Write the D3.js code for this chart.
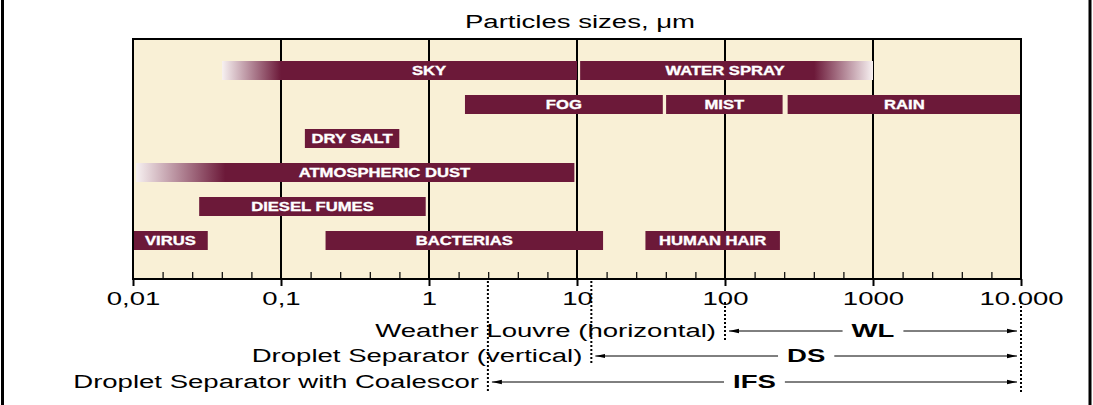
<!DOCTYPE html>
<html>
<head>
<meta charset="utf-8">
<script src="https://cdn.jsdelivr.net/npm/d3@7"></script>
<style>
  html, body { margin: 0; padding: 0; background: #fff; }
  svg { display: block; }
  text { font-family: "Liberation Sans", Arial, sans-serif; }
</style>
</head>
<body>
<div id="chart"></div>
<script>
// particle size ranges, um
const barNames = ["SKY", "WATER SPRAY", "FOG", "MIST", "RAIN", "DRY SALT", "ATMOSPHERIC DUST", "DIESEL FUMES", "VIRUS", "BACTERIAS", "HUMAN HAIR"];
const barRows  = [0, 0, 1, 1, 1, 2, 3, 4, 5, 5, 5];
const barFrom  = [0.04, 10.5, 1.75, 40, 265, 0.145, 0.0105, 0.028, 0.01, 0.2, 29];
const barTo    = [10, 1000, 38, 245, 10000, 0.63, 9.6, 0.95, 0.032, 15, 235];
// where a faded end turns solid (null = no fade)
const fadeInTo   = [0.1, null, null, null, null, null, 0.042, null, null, null, null];
const fadeOutFrom = [null, 400, null, null, null, null, null, null, null, null, null];
const labelAt  = [1, 100, null, null, null, null, 0.5, null, null, null, null];

const decades    = [0.01, 0.1, 1, 10, 100, 1000, 10000];
const tickLabels = ["0,01", "0,1", "1", "10", "100", "1000", "10.000"];
const minorSteps = 5;   // each decade is cut in five equal (log) parts

const sepNames = ["Weather Louvre (horizontal)", "Droplet Separator (vertical)", "Droplet Separator with Coalescor"];
const sepCodes = ["WL", "DS", "IFS"];
const sepFrom  = [100, 12.5, 2.5];
const sepTo    = [10000, 10000, 10000];

const width = 1093, height = 405;
const plot = { left: 133, right: 1021, top: 39, bottom: 279 };
const barColor = "#6c1939";
const cream = "#f9f0d6";
const sx = 1.45;      // the source type is set wide
const barSx = 1.28;

const svg = d3.select("#chart").append("svg")
    .attr("width", width)
    .attr("height", height);

const x = d3.scaleLog().domain([0.01, 10000]).range([plot.left, plot.right]);
const y = d3.scalePoint().domain(d3.range(6)).range([70.5, 240.5]);
const barH = 19;

// outer frame (left / right rules of the page)
svg.append("line").attr("x1", 2.5).attr("x2", 2.5).attr("y1", 0).attr("y2", height)
    .attr("stroke", "#000").attr("stroke-width", 3);
svg.append("line").attr("x1", 1090).attr("x2", 1090).attr("y1", 0).attr("y2", height)
    .attr("stroke", "#000").attr("stroke-width", 3);

// title
svg.append("text")
    .attr("transform", `translate(580,28) scale(${sx},1)`)
    .attr("text-anchor", "middle")
    .style("font-size", "19px")
    .text("Particles sizes, \u03bcm");

// plot background
svg.append("rect")
    .attr("x", plot.left).attr("y", plot.top)
    .attr("width", plot.right - plot.left).attr("height", plot.bottom - plot.top)
    .attr("fill", cream);

// minor ticks (pointing up into the plot)
const minors = [];
decades.slice(0, -1).forEach(d => {
    for (let k = 1; k < minorSteps; k++) minors.push(d * Math.pow(10, k / minorSteps));
});
svg.append("g")
    .attr("transform", `translate(0,${plot.bottom})`)
    .call(d3.axisBottom(x).tickValues(minors).tickSize(-7).tickFormat(""))
    .call(g => g.select(".domain").remove())
    .call(g => g.selectAll("line").attr("stroke", "#000").attr("stroke-width", 1.2));

// decade grid lines
svg.append("g").selectAll("line")
    .data(decades.slice(1, -1))
    .join("line")
    .attr("x1", d => x(d)).attr("x2", d => x(d))
    .attr("y1", plot.top).attr("y2", plot.bottom)
    .attr("stroke", "#000").attr("stroke-width", 2);

// bars
const defs = svg.append("defs");
const bars = barNames.map((name, i) => ({
    name, row: barRows[i], from: barFrom[i], to: barTo[i],
    fadeIn: fadeInTo[i], fadeOut: fadeOutFrom[i], label: labelAt[i]
}));

bars.forEach((b, i) => {
    const x0 = x(b.from), x1 = x(b.to);
    let fill = barColor;
    if (b.fadeIn || b.fadeOut) {
        const id = "fade" + i;
        const grad = defs.append("linearGradient").attr("id", id)
            .attr("gradientUnits", "userSpaceOnUse")
            .attr("x1", x0).attr("x2", x1).attr("y1", 0).attr("y2", 0);
        const pct = v => ((x(v) - x0) / (x1 - x0) * 100) + "%";
        if (b.fadeIn) {
            grad.append("stop").attr("offset", "0%").attr("stop-color", "#f7f1f1");
            grad.append("stop").attr("offset", pct(b.fadeIn)).attr("stop-color", barColor);
            grad.append("stop").attr("offset", "100%").attr("stop-color", barColor);
        } else {
            grad.append("stop").attr("offset", "0%").attr("stop-color", barColor);
            grad.append("stop").attr("offset", pct(b.fadeOut)).attr("stop-color", barColor);
            grad.append("stop").attr("offset", "100%").attr("stop-color", "#f7f1f1");
        }
        fill = `url(#${id})`;
    }
    svg.append("rect")
        .attr("x", x0).attr("y", y(b.row) - barH / 2)
        .attr("width", x1 - x0).attr("height", barH)
        .attr("fill", fill);

    const lx = b.label ? x(b.label) : x(Math.sqrt(b.from * b.to));
    svg.append("text")
        .attr("transform", `translate(${lx},${y(b.row) + 4.8}) scale(${barSx},1)`)
        .attr("text-anchor", "middle")
        .attr("fill", "#fff")
        .attr("stroke", "#fff")
        .attr("stroke-width", 0.35)
        .style("font-size", "13px")
        .style("font-weight", "bold")
        .text(b.name);
});

// plot border
svg.append("rect")
    .attr("x", plot.left).attr("y", plot.top)
    .attr("width", plot.right - plot.left).attr("height", plot.bottom - plot.top)
    .attr("fill", "none").attr("stroke", "#000").attr("stroke-width", 2);

// decade axis with labels
svg.append("g")
    .attr("transform", `translate(0,${plot.bottom})`)
    .call(d3.axisBottom(x).tickValues(decades).tickSize(7)
        .tickFormat((d, i) => tickLabels[i]))
    .call(g => g.select(".domain").remove())
    .call(g => g.selectAll("line").attr("stroke", "#000").attr("stroke-width", 2))
    .call(g => g.selectAll("text")
        .attr("y", null).attr("dy", null)
        .attr("transform", `translate(0,26) scale(${sx},1)`)
        .attr("fill", "#000")
        .style("font-size", "19px")
        .style("font-family", "'Liberation Sans', Arial, sans-serif"));

// separator ranges
const sepRows = [337, 362, 388];
const dashTop = [302, plot.bottom + 2, plot.bottom + 2];
defs.append("marker").attr("id", "arrow")
    .attr("viewBox", "0 0 10 6").attr("refX", 10).attr("refY", 3)
    .attr("markerWidth", 10).attr("markerHeight", 6).attr("markerUnits", "userSpaceOnUse")
    .attr("orient", "auto-start-reverse")
    .append("path").attr("d", "M0,0.8L10,3L0,5.2Z").attr("fill", "#000");

sepNames.forEach((name, i) => {
    const xa = x(sepFrom[i]), xb = x(sepTo[i]);
    const base = sepRows[i], mid = base - 6;

    svg.append("line")
        .attr("x1", xa).attr("x2", xa).attr("y1", dashTop[i]).attr("y2", base + 3)
        .attr("stroke", "#000").attr("stroke-width", 2).attr("stroke-dasharray", "2,2");

    svg.append("text")
        .attr("transform", `translate(${xa - 9},${base}) scale(${sx},1)`)
        .attr("text-anchor", "end")
        .style("font-size", "19px")
        .text(name);

    const cx = (xa + xb) / 2;
    const code = svg.append("text")
        .attr("transform", `translate(${cx},${base}) scale(${sx},1)`)
        .attr("text-anchor", "middle")
        .style("font-size", "19px")
        .style("font-weight", "bold")
        .text(sepCodes[i]);
    const half = code.node().getComputedTextLength() * sx / 2 + 9;

    svg.append("line")
        .attr("x1", cx - half).attr("x2", xa + 4).attr("y1", mid).attr("y2", mid)
        .attr("stroke", "#000").attr("stroke-width", 1)
        .attr("marker-end", "url(#arrow)");
    svg.append("line")
        .attr("x1", cx + half).attr("x2", xb - 4).attr("y1", mid).attr("y2", mid)
        .attr("stroke", "#000").attr("stroke-width", 1)
        .attr("marker-end", "url(#arrow)");
});

// right-hand limit line shared by all three ranges
svg.append("line")
    .attr("x1", x(10000)).attr("x2", x(10000)).attr("y1", 302).attr("y2", 393)
    .attr("stroke", "#000").attr("stroke-width", 2).attr("stroke-dasharray", "2,2");
</script>
</body>
</html>
